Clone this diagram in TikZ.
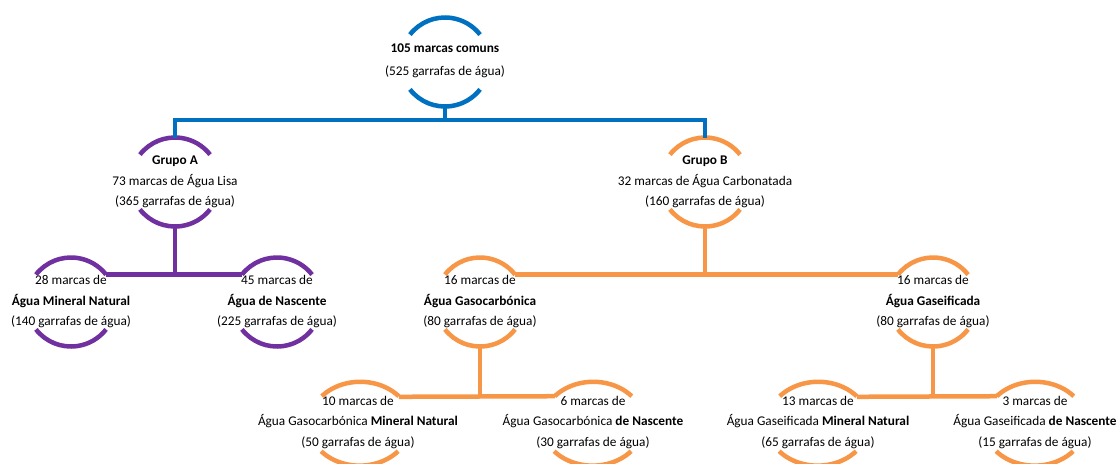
\documentclass[tikz,border=0pt]{standalone}
\usepackage{fontspec}
\setmainfont{Carlito}
\usetikzlibrary{shapes.geometric}

\definecolor{cblue}{HTML}{0070C0}
\definecolor{cpurple}{HTML}{7030A0}
\definecolor{corange}{HTML}{F79646}

\tikzset{
    ring/.style={circle, minimum size=89pt, inner sep=0pt, outer sep=0pt},
    wring/.style={ellipse, minimum width=102pt, minimum height=84pt, inner sep=0pt, outer sep=0pt},
    txt/.style={align=center, inner sep=0pt, font=\fontsize{13.3}{20.5}\selectfont},
    link/.style={line width=4.5pt},
}

\begin{document}
\begin{tikzpicture}[x=1pt, y=1pt]
    \useasboundingbox (0,0) rectangle (1118,-463);

    % Top
    \node[ring] (top) at (445,-62) {};
    \node[txt, font=\fontsize{13.3}{23}\selectfont] (toptxt) at (445,-60.5) {\textbf{105 marcas comuns}\\(525 garrafas de água)};

    % Groups
    \node[ring] (ga) at (175,-182) {};
    \node[txt] (gatxt) at (ga) {\textbf{Grupo A}\\73 marcas de Água Lisa\\(365 garrafas de água)};
    \node[ring] (gb) at (705,-182) {};
    \node[txt] (gbtxt) at (gb) {\textbf{Grupo B}\\32 marcas de Água Carbonatada\\(160 garrafas de água)};

    % Second level
    \node[ring] (mn) at (71,-302) {};
    \node[txt] (mntxt) at (mn) {28 marcas de\\\textbf{Água Mineral Natural}\\(140 garrafas de água)};
    \node[ring] (nas) at (277,-302) {};
    \node[txt] (nastxt) at (nas) {45 marcas de\\\textbf{Água de Nascente}\\(225 garrafas de água)};
    \node[ring] (gc) at (480,-302) {};
    \node[txt] (gctxt) at (gc) {16 marcas de\\\textbf{Água Gasocarbónica}\\(80 garrafas de água)};
    \node[ring] (gs) at (933,-302) {};
    \node[txt] (gstxt) at (gs) {16 marcas de\\\textbf{Água Gaseificada}\\(80 garrafas de água)};

    % Third level
    \node[wring] (gcm) at (360,-424) {};
    \node[txt] (gcmtxt) at (358,-422.5) {10 marcas de\\Água Gasocarbónica \textbf{Mineral Natural}\\(50 garrafas de água)};
    \node[wring] (gcn) at (593,-424) {};
    \node[txt] (gcntxt) at (593,-422.5) {6 marcas de\\Água Gasocarbónica \textbf{de Nascente}\\(30 garrafas de água)};
    \node[wring] (gsm) at (818,-424) {};
    \node[txt] (gsmtxt) at (818,-422.5) {13 marcas de\\Água Gaseificada \textbf{Mineral Natural}\\(65 garrafas de água)};
    \node[wring] (gsn) at (1035,-424) {};
    \node[txt] (gsntxt) at (1035,-422.5) {3 marcas de\\Água Gaseificada \textbf{de Nascente}\\(15 garrafas de água)};

    % Arcs
    \foreach \n/\c in {top/cblue, ga/cpurple, mn/cpurple, nas/cpurple, gb/corange, gc/corange, gs/corange}{
        \draw[link, \c] (\n.142) arc[start angle=142, end angle=38, radius=44.5pt];
        \draw[link, \c] (\n.218) arc[start angle=218, end angle=322, radius=44.5pt];
    }
    \foreach \n in {gcm, gcn, gsm, gsn}{
        \draw[link, corange] (\n.144.5) arc[start angle=139, end angle=41, x radius=51pt, y radius=42pt];
        \draw[link, corange] (\n.215.5) arc[start angle=221, end angle=319, x radius=51pt, y radius=42pt];
    }

    % Connectors
    \draw[link, cblue] (top.south) -- ++(0,-13.5) -| (ga.north);
    \draw[link, cblue] (top.south) -- ++(0,-13.5) -| (gb.north);
    \draw[link, cpurple] (ga.south) -- (ga.south |- mn.38);
    \draw[link, cpurple] (mn.38) -- (nas.142);
    \draw[link, corange] (gb.south) -- (gb.south |- gc.38);
    \draw[link, corange] (gc.38) -- (gs.142);
    \draw[link, corange] (gc.south) -- (gc.south |- gcm.35.5);
    \draw[link, corange] (gcm.35.5) -- (gcn.144.5);
    \draw[link, corange] (gs.south) -- (gs.south |- gsm.35.5);
    \draw[link, corange] (gsm.35.5) -- (gsn.144.5);
\end{tikzpicture}
\end{document}
